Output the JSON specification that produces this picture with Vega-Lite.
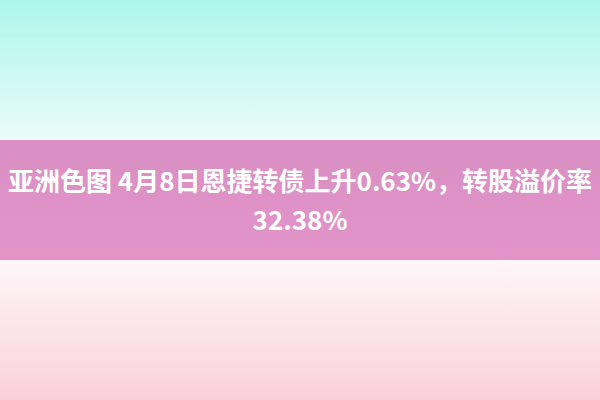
{
  "$schema": "https://vega.github.io/schema/vega-lite/v6.json",
  "width": 600,
  "height": 400,
  "autosize": {"type": "fit", "contains": "padding"},
  "padding": 0,
  "background": "#ffffff",
  "config": {"view": {"stroke": null}},
  "datasets": {
    "bands": [
      {"band": "top", "x0": 0, "x1": 600, "y0": 0, "y1": 140},
      {"band": "middle", "x0": 0, "x1": 600, "y0": 140, "y1": 260},
      {"band": "bottom", "x0": 0, "x1": 600, "y0": 260, "y1": 400}
    ],
    "lines": [
      {"line": 1, "x": 300, "y": 183, "label": "亚洲色图 4月8日恩捷转债上升0.63%，转股溢价率"},
      {"line": 2, "x": 300, "y": 222, "label": "32.38%"}
    ]
  },
  "layer": [
    {
      "data": {"name": "bands"},
      "transform": [{"filter": "datum.band === 'top'"}],
      "mark": {
        "type": "rect",
        "color": {"gradient": "linear", "x1": 0, "y1": 0, "x2": 0, "y2": 1,
          "stops": [{"offset": 0, "color": "#adf6ea"}, {"offset": 1, "color": "#e9fcf9"}]}
      },
      "encoding": {
        "x": {"field": "x0", "type": "quantitative", "scale": {"domain": [0, 600]}, "axis": null},
        "x2": {"field": "x1"},
        "y": {"field": "y0", "type": "quantitative", "scale": {"domain": [0, 400], "reverse": true}, "axis": null},
        "y2": {"field": "y1"}
      }
    },
    {
      "data": {"name": "bands"},
      "transform": [{"filter": "datum.band === 'middle'"}],
      "mark": {
        "type": "rect",
        "color": {"gradient": "linear", "x1": 0, "y1": 0, "x2": 0, "y2": 1,
          "stops": [{"offset": 0, "color": "#d98fc3"}, {"offset": 1, "color": "#e294c9"}]}
      },
      "encoding": {
        "x": {"field": "x0", "type": "quantitative", "scale": {"domain": [0, 600]}, "axis": null},
        "x2": {"field": "x1"},
        "y": {"field": "y0", "type": "quantitative", "scale": {"domain": [0, 400], "reverse": true}, "axis": null},
        "y2": {"field": "y1"}
      }
    },
    {
      "data": {"name": "bands"},
      "transform": [{"filter": "datum.band === 'bottom'"}],
      "mark": {
        "type": "rect",
        "color": {"gradient": "linear", "x1": 0, "y1": 0, "x2": 0, "y2": 1,
          "stops": [{"offset": 0, "color": "#fdf6f8"}, {"offset": 1, "color": "#fbd0dc"}]}
      },
      "encoding": {
        "x": {"field": "x0", "type": "quantitative", "scale": {"domain": [0, 600]}, "axis": null},
        "x2": {"field": "x1"},
        "y": {"field": "y0", "type": "quantitative", "scale": {"domain": [0, 400], "reverse": true}, "axis": null},
        "y2": {"field": "y1"}
      }
    },
    {
      "data": {"name": "lines"},
      "mark": {
        "type": "text",
        "font": "Noto Sans CJK SC",
        "fontSize": 26,
        "fontWeight": "bold",
        "color": "#ffffff",
        "align": "center",
        "baseline": "middle"
      },
      "encoding": {
        "x": {"field": "x", "type": "quantitative", "scale": {"domain": [0, 600]}, "axis": null},
        "y": {"field": "y", "type": "quantitative", "scale": {"domain": [0, 400], "reverse": true}, "axis": null},
        "text": {"field": "label"}
      }
    }
  ]
}
